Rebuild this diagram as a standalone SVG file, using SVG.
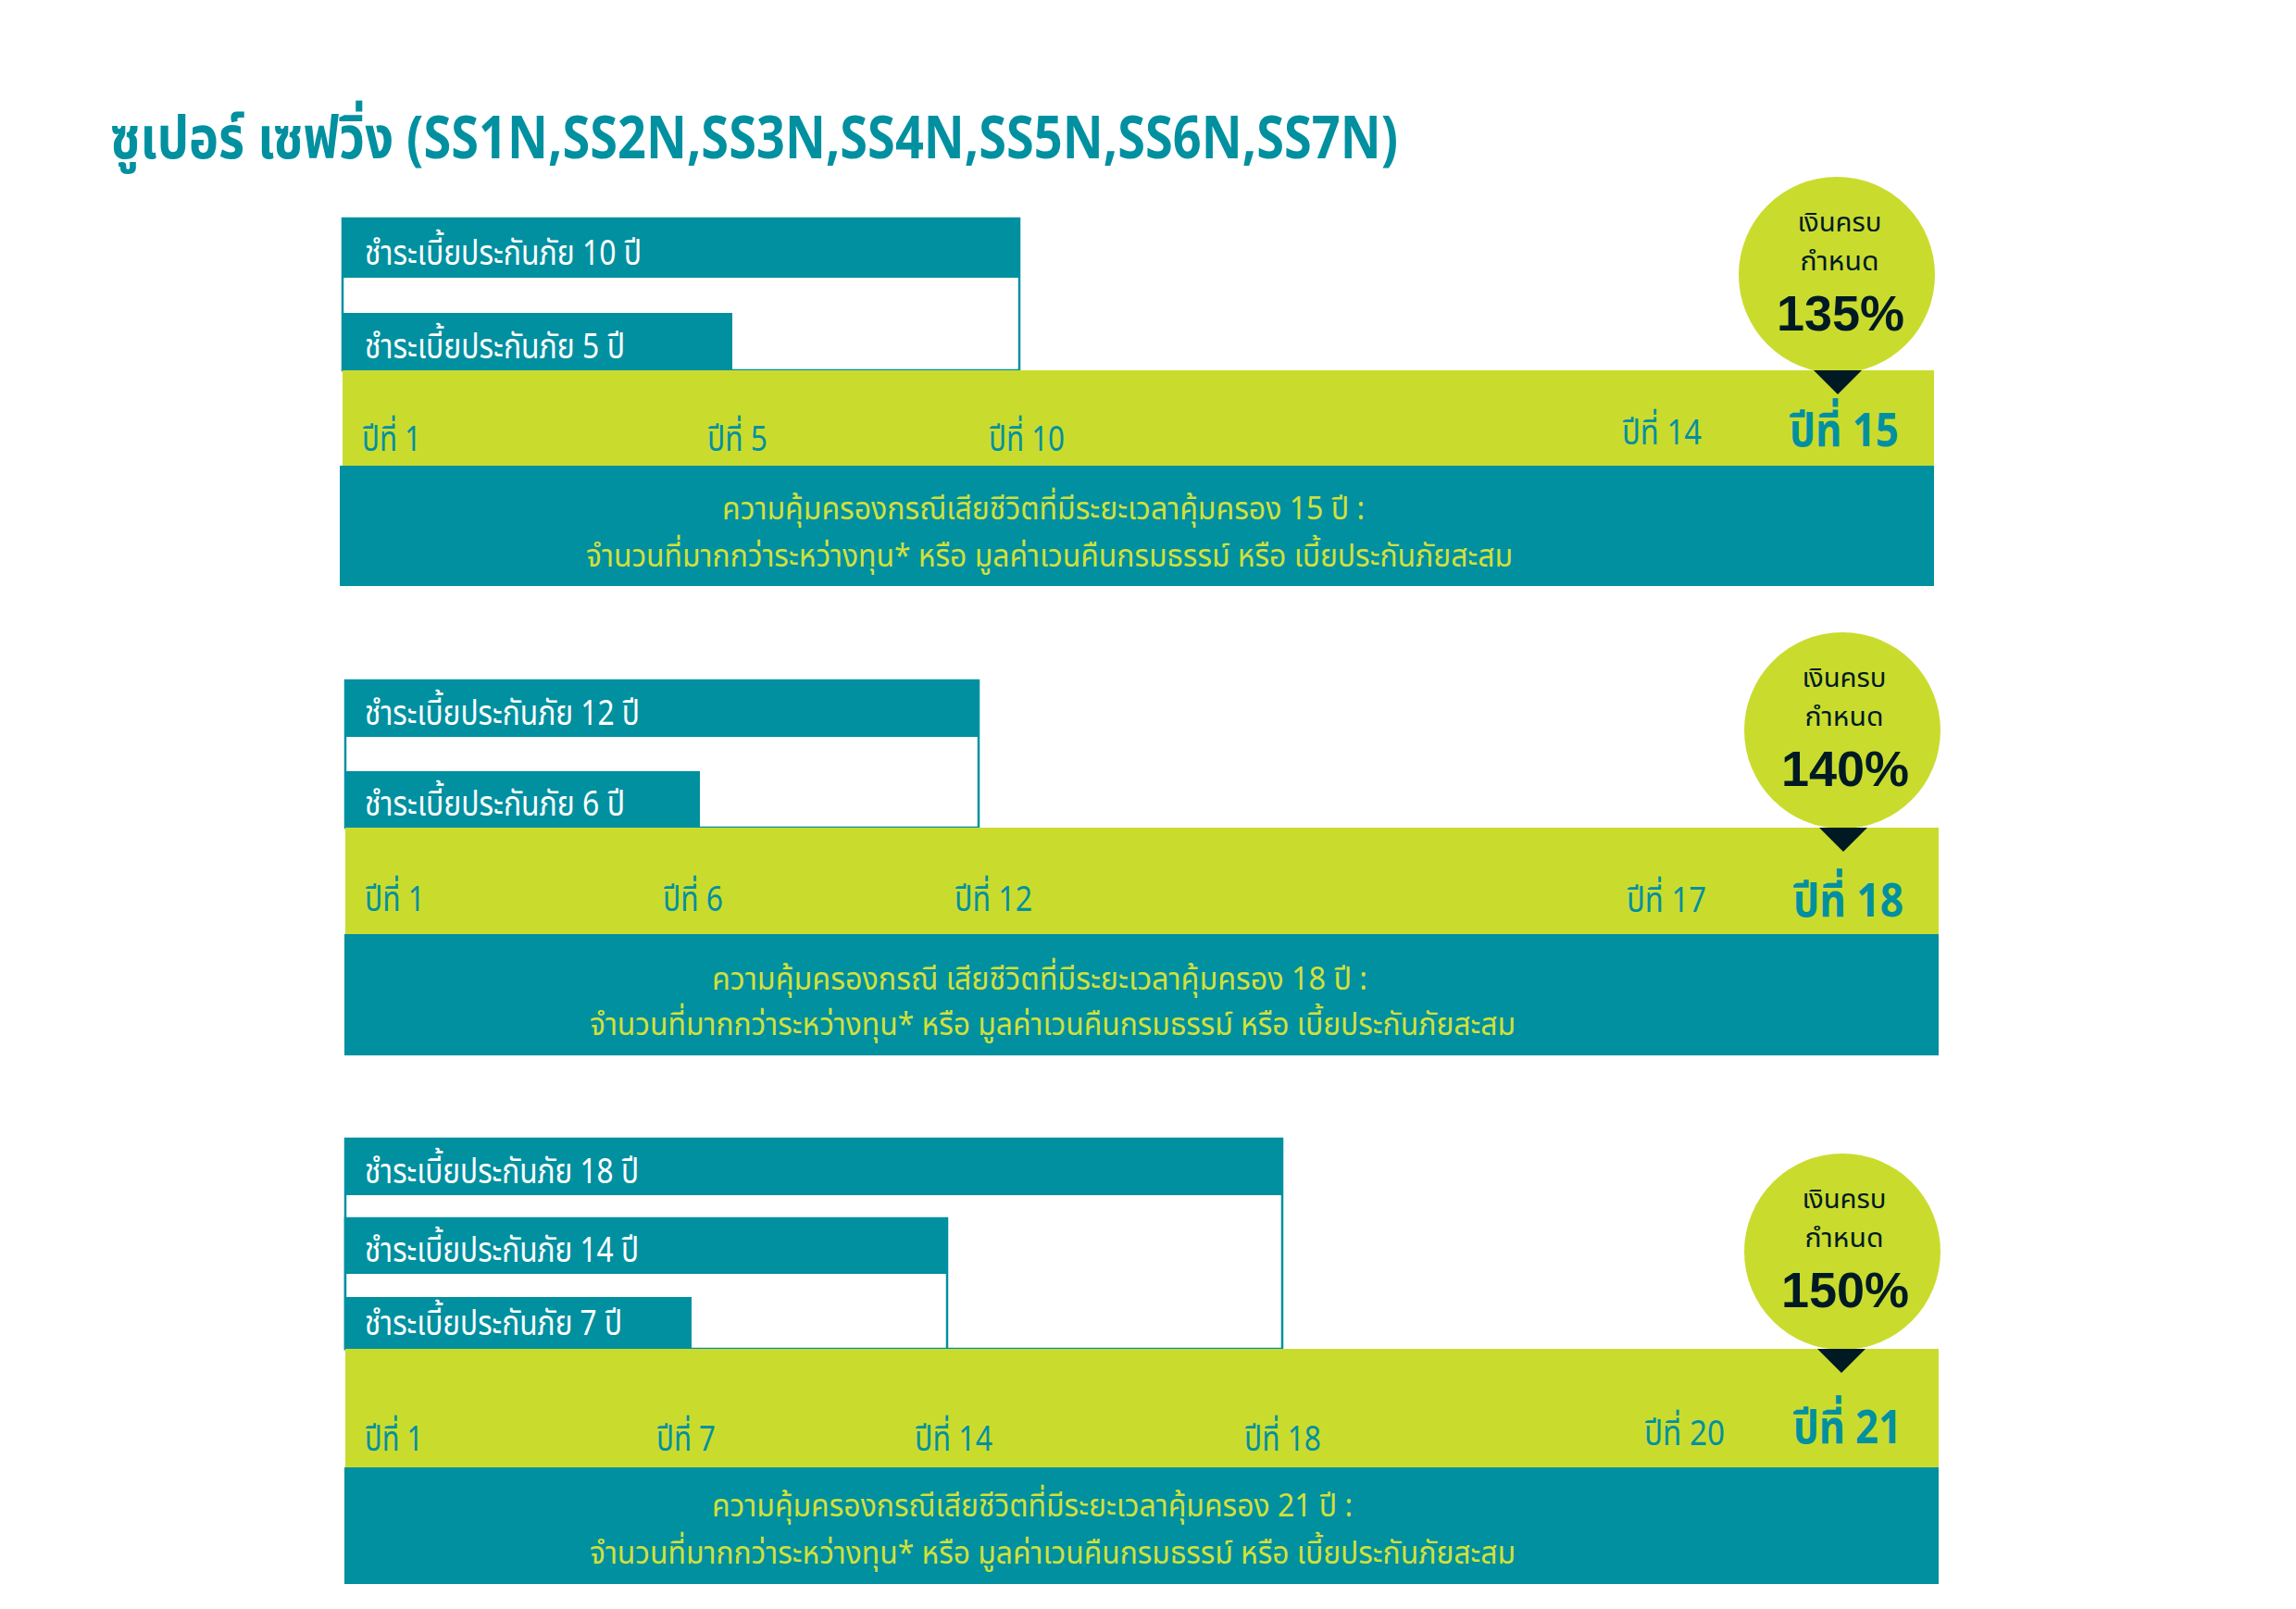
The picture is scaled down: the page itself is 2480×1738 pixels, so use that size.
<svg xmlns="http://www.w3.org/2000/svg" width="2480" height="1738" viewBox="0 0 2480 1738">
<defs>
<style>
.teal{fill:#0190A0}
.green{fill:#C9DC2E}
.outline{fill:#FFFFFF;stroke:#0190A0;stroke-width:2.5}
.t{font-family:"Noto Sans Thai","Noto Sans","Liberation Sans",sans-serif}
.bar{font-size:38px;fill:#FFFFFF}
.yr{font-size:38px;fill:#0190A0}
.yrb{font-size:50px;fill:#0190A0;font-weight:bold}
.cov{font-size:34px;fill:#D2E03A}
.ct{font-size:29px;fill:#001A24;text-anchor:middle}
.pct{font-family:"Liberation Sans",Arial,sans-serif;font-size:54px;font-weight:bold;fill:#001A24;text-anchor:middle}
.tri{fill:#001A24}
.title{font-size:64px;font-weight:bold;fill:#0190A0}
</style>
</defs>
<rect width="2480" height="1738" fill="#FFFFFF"/>
<g id="title">
<text class="t title" x="119" y="171" textLength="1391" lengthAdjust="spacingAndGlyphs">ซูเปอร์ เซฟวิ่ง (SS1N,SS2N,SS3N,SS4N,SS5N,SS6N,SS7N)</text>
</g>
<g id="connectors"></g>

<!-- Section 1 -->
<g id="plan15">
<rect class="outline" x="370" y="236" width="731" height="164"/>
<rect class="teal" x="369" y="236" width="733" height="64"/>
<text class="t bar" x="394" y="286" textLength="299" lengthAdjust="spacingAndGlyphs">ชำระเบี้ยประกันภัย 10 ปี</text>
<rect class="teal" x="369" y="338" width="422" height="62"/>
<text class="t bar" x="394" y="387" textLength="281" lengthAdjust="spacingAndGlyphs">ชำระเบี้ยประกันภัย 5 ปี</text>
<rect class="green" x="370" y="400" width="1719" height="103"/>
<rect class="teal" x="367" y="503" width="1722" height="130"/>
<text class="t yr" x="391" y="487" textLength="64" lengthAdjust="spacingAndGlyphs">ปีที่ 1</text>
<text class="t yr" x="764" y="487" textLength="65" lengthAdjust="spacingAndGlyphs">ปีที่ 5</text>
<text class="t yr" x="1068" y="487" textLength="82" lengthAdjust="spacingAndGlyphs">ปีที่ 10</text>
<text class="t yr" x="1752" y="480" textLength="86" lengthAdjust="spacingAndGlyphs">ปีที่ 14</text>
<text class="t yrb" x="1933" y="482" textLength="118" lengthAdjust="spacingAndGlyphs">ปีที่ 15</text>
<text class="t cov" x="780" y="561" textLength="694" lengthAdjust="spacingAndGlyphs">ความคุ้มครองกรณีเสียชีวิตที่มีระยะเวลาคุ้มครอง 15 ปี :</text>
<text class="t cov" x="633" y="612" textLength="1001" lengthAdjust="spacingAndGlyphs">จำนวนที่มากกว่าระหว่างทุน* หรือ มูลค่าเวนคืนกรมธรรม์ หรือ เบี้ยประกันภัยสะสม</text>
</g>
<g id="bubble15">
<circle class="green" cx="1984" cy="297" r="106"/>
<polygon class="tri" points="1959,400 2011,400 1985,426"/>
<text class="t ct" x="1987" y="250" textLength="91" lengthAdjust="spacingAndGlyphs">เงินครบ</text>
<text class="t ct" x="1987" y="292" textLength="85" lengthAdjust="spacingAndGlyphs">กำหนด</text>
<text class="pct" x="1988" y="357">135%</text>
</g>

<!-- Section 2 -->
<g id="plan18">
<rect class="outline" x="373" y="735" width="684" height="159"/>
<rect class="teal" x="372" y="735" width="686" height="61"/>
<text class="t bar" x="394" y="783" textLength="297" lengthAdjust="spacingAndGlyphs">ชำระเบี้ยประกันภัย 12 ปี</text>
<rect class="teal" x="372" y="833" width="384" height="61"/>
<text class="t bar" x="394" y="881" textLength="281" lengthAdjust="spacingAndGlyphs">ชำระเบี้ยประกันภัย 6 ปี</text>
<rect class="green" x="373" y="894" width="1721" height="115"/>
<rect class="teal" x="372" y="1009" width="1722" height="131"/>
<text class="t yr" x="394" y="984" textLength="65" lengthAdjust="spacingAndGlyphs">ปีที่ 1</text>
<text class="t yr" x="716" y="984" textLength="65" lengthAdjust="spacingAndGlyphs">ปีที่ 6</text>
<text class="t yr" x="1031" y="984" textLength="84" lengthAdjust="spacingAndGlyphs">ปีที่ 12</text>
<text class="t yr" x="1757" y="985" textLength="86" lengthAdjust="spacingAndGlyphs">ปีที่ 17</text>
<text class="t yrb" x="1937" y="990" textLength="119" lengthAdjust="spacingAndGlyphs">ปีที่ 18</text>
<text class="t cov" x="769" y="1069" textLength="708" lengthAdjust="spacingAndGlyphs">ความคุ้มครองกรณี เสียชีวิตที่มีระยะเวลาคุ้มครอง 18  ปี :</text>
<text class="t cov" x="637" y="1118" textLength="1000" lengthAdjust="spacingAndGlyphs">จำนวนที่มากกว่าระหว่างทุน* หรือ มูลค่าเวนคืนกรมธรรม์ หรือ เบี้ยประกันภัยสะสม</text>
</g>
<g id="bubble18">
<circle class="green" cx="1990" cy="789" r="106"/>
<polygon class="tri" points="1965,894 2017,894 1991,920"/>
<text class="t ct" x="1992" y="742" textLength="91" lengthAdjust="spacingAndGlyphs">เงินครบ</text>
<text class="t ct" x="1992" y="784" textLength="85" lengthAdjust="spacingAndGlyphs">กำหนด</text>
<text class="pct" x="1993" y="849">140%</text>
</g>

<!-- Section 3 -->
<g id="plan21">
<rect class="outline" x="373" y="1230" width="1012" height="227"/>
<rect class="teal" x="372" y="1230" width="1014" height="61"/>
<text class="t bar" x="394" y="1278" textLength="296" lengthAdjust="spacingAndGlyphs">ชำระเบี้ยประกันภัย 18 ปี</text>
<rect class="outline" x="373" y="1316" width="650" height="141"/>
<rect class="teal" x="372" y="1316" width="652" height="60"/>
<text class="t bar" x="394" y="1363" textLength="296" lengthAdjust="spacingAndGlyphs">ชำระเบี้ยประกันภัย 14 ปี</text>
<rect class="teal" x="372" y="1401" width="375" height="56"/>
<text class="t bar" x="394" y="1442" textLength="278" lengthAdjust="spacingAndGlyphs">ชำระเบี้ยประกันภัย 7 ปี</text>
<rect class="green" x="373" y="1457" width="1721" height="128"/>
<rect class="teal" x="372" y="1585" width="1722" height="126"/>
<text class="t yr" x="394" y="1567" textLength="63" lengthAdjust="spacingAndGlyphs">ปีที่ 1</text>
<text class="t yr" x="709" y="1567" textLength="64" lengthAdjust="spacingAndGlyphs">ปีที่ 7</text>
<text class="t yr" x="988" y="1567" textLength="84" lengthAdjust="spacingAndGlyphs">ปีที่ 14</text>
<text class="t yr" x="1344" y="1567" textLength="83" lengthAdjust="spacingAndGlyphs">ปีที่ 18</text>
<text class="t yr" x="1776" y="1561" textLength="87" lengthAdjust="spacingAndGlyphs">ปีที่ 20</text>
<text class="t yrb" x="1937" y="1559" textLength="117" lengthAdjust="spacingAndGlyphs">ปีที่ 21</text>
<text class="t cov" x="769" y="1638" textLength="692" lengthAdjust="spacingAndGlyphs">ความคุ้มครองกรณีเสียชีวิตที่มีระยะเวลาคุ้มครอง 21 ปี :</text>
<text class="t cov" x="637" y="1689" textLength="1000" lengthAdjust="spacingAndGlyphs">จำนวนที่มากกว่าระหว่างทุน* หรือ มูลค่าเวนคืนกรมธรรม์ หรือ เบี้ยประกันภัยสะสม</text>
</g>
<g id="bubble21">
<circle class="green" cx="1990" cy="1352" r="106"/>
<polygon class="tri" points="1963,1457 2015,1457 1989,1483"/>
<text class="t ct" x="1992" y="1305" textLength="91" lengthAdjust="spacingAndGlyphs">เงินครบ</text>
<text class="t ct" x="1992" y="1347" textLength="85" lengthAdjust="spacingAndGlyphs">กำหนด</text>
<text class="pct" x="1993" y="1412">150%</text>
</g>
</svg>
